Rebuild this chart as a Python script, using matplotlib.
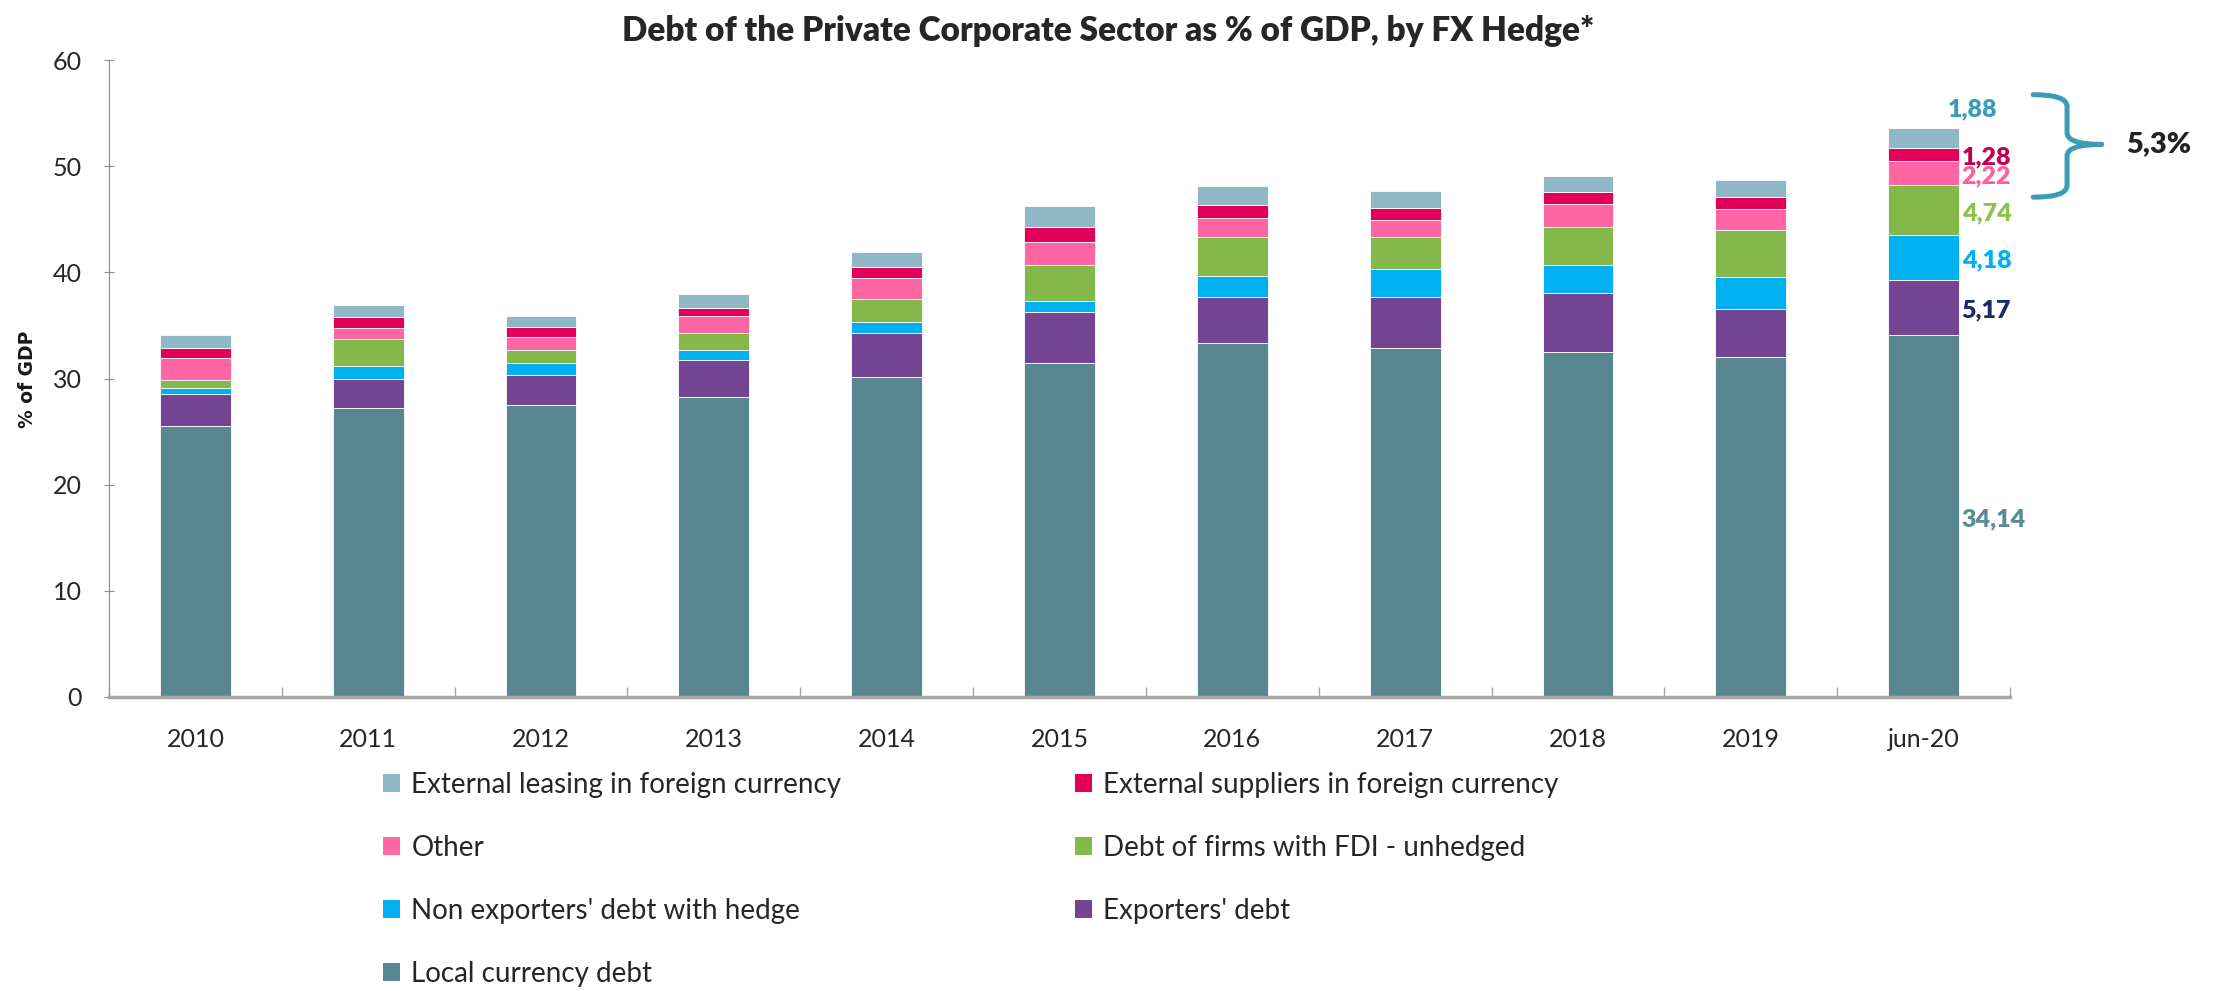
import matplotlib
matplotlib.use("Agg")
import matplotlib.pyplot as plt
import numpy as np
from matplotlib.patches import Patch, PathPatch
from matplotlib.path import Path

plt.rcParams["font.family"] = ["Lato", "DejaVu Sans"]

# data (% of GDP)
periods = ["2010", "2011", "2012", "2013", "2014", "2015",
           "2016", "2017", "2018", "2019", "jun-20"]
local_currency = [25.5, 27.2, 27.5, 28.3, 30.1, 31.5, 33.3, 32.9, 32.5, 32.0, 34.14]
exporters = [3.0, 2.75, 2.8, 3.4, 4.2, 4.8, 4.4, 4.8, 5.6, 4.55, 5.17]
non_exporters_hedge = [0.6, 1.2, 1.2, 0.97, 1.0, 1.0, 2.0, 2.6, 2.6, 3.0, 4.18]
fdi_unhedged = [0.8, 2.6, 1.15, 1.6, 2.2, 3.4, 3.65, 3.0, 3.55, 4.45, 4.74]
other = [2.0, 1.0, 1.25, 1.6, 2.0, 2.2, 1.8, 1.6, 2.2, 2.0, 2.22]
ext_suppliers = [1.0, 1.0, 0.95, 0.8, 1.0, 1.35, 1.2, 1.15, 1.15, 1.1, 1.28]
ext_leasing = [1.2, 1.2, 1.0, 1.25, 1.4, 2.0, 1.8, 1.6, 1.45, 1.6, 1.88]
fx_exposure_label = "5,3%"

series = [
    ("Local currency debt", local_currency, "#588792", "#5b8b98"),
    ("Exporters' debt", exporters, "#744593", "#1a2a6c"),
    ("Non exporters' debt with hedge", non_exporters_hedge, "#00b0f0", "#00b0f0"),
    ("Debt of firms with FDI - unhedged", fdi_unhedged, "#84b84a", "#92c050"),
    ("Other", other, "#ff66a3", "#ff5f9e"),
    ("External suppliers in foreign currency", ext_suppliers, "#e3005a", "#c00050"),
    ("External leasing in foreign currency", ext_leasing, "#8fb8c6", "#3d9cb5"),
]

W, H = 2216, 991
fig = plt.figure(figsize=(W / 100, H / 100), dpi=100)
ax = fig.add_axes([109 / W, 1 - 697 / H, (2010 - 109) / W, (697 - 60) / H])

x = np.arange(len(periods))
bottom = np.zeros(len(periods))
handles = {}
for name, vals, color, _ in series:
    vals = np.array(vals)
    ax.bar(x, vals, 0.41, bottom=bottom, color=color, edgecolor="white", linewidth=0.6)
    handles[name] = Patch(facecolor=color, edgecolor="none")
    bottom += vals

# value labels for the last bar
last = len(periods) - 1
base = 0.0
for name, vals, _, lcolor in series:
    v = vals[last]
    txt = f"{v:.2f}".replace(".", ",")
    if name.startswith("External leasing"):
        ax.text(last + 0.14, base + v + 1.7, txt, color=lcolor, fontsize=18,
                fontweight="heavy", ha="left", va="center")
    else:
        ax.text(last + 0.22, base + v / 2 - 0.3, txt, color=lcolor, fontsize=18,
                fontweight="heavy", ha="left", va="center")
    base += v

# curly brace around the top three segments
x0, xs, xt = 10.634, 10.83, 11.03
ytop, ymid, ybot, r = 56.73, 52.05, 47.08, 1.1
verts = [(x0, ytop), (xs, ytop), (xs, ytop - r), (xs, ymid + r), (xs, ymid), (xt, ymid),
         (xt, ymid), (xs, ymid), (xs, ymid - r), (xs, ybot + r), (xs, ybot), (x0, ybot)]
codes = [Path.MOVETO, Path.CURVE3, Path.CURVE3, Path.LINETO, Path.CURVE3, Path.CURVE3,
         Path.MOVETO, Path.CURVE3, Path.CURVE3, Path.LINETO, Path.CURVE3, Path.CURVE3]
ax.add_patch(PathPatch(Path(verts, codes), fill=False, edgecolor="#3d9cb5",
                       linewidth=3.6, clip_on=False, capstyle="round"))
ax.text(11.17, ymid, fx_exposure_label, fontsize=21, fontweight="heavy",
        color="#222222", ha="left", va="center")

ax.set_xlim(-0.5, len(periods) - 0.5)
ax.set_ylim(0, 60)
ax.set_yticks(range(0, 61, 10))
ax.set_xticks(x)
ax.set_xticklabels(periods)
ax.set_xticks(np.arange(-0.5, len(periods), 1.0), minor=True)
ax.tick_params(axis="x", which="major", length=0, pad=22, labelsize=18, labelcolor="#262626")
ax.tick_params(axis="x", which="minor", direction="in", length=7, color="#a6a6a6", width=1)
ax.tick_params(axis="y", direction="inout", length=7, color="#8c8c8c", pad=16,
               labelsize=18, labelcolor="#262626")

for side in ("top", "right"):
    ax.spines[side].set_visible(False)
ax.spines["left"].set_color("#8c8c8c")
ax.spines["bottom"].set_color("#a6a6a6")
ax.spines["bottom"].set_linewidth(2.5)

fig.text(28 / W, 1 - 379 / H, "% of GDP", rotation=90, fontsize=13.5,
         fontweight="bold", family="DejaVu Sans", color="#1a1a1a",
         ha="center", va="center")
fig.text(0.5, 1 - 31 / H, "Debt of the Private Corporate Sector as % of GDP, by FX Hedge*",
         fontsize=24, fontweight="heavy", color="#262626", ha="center", va="center")

legend_kw = dict(frameon=False, fontsize=20, handlelength=0.62, handleheight=0.62,
                 handletextpad=0.4, labelspacing=1.33, borderaxespad=0, borderpad=0,
                 labelcolor="#262626")
col1 = ["External leasing in foreign currency", "Other",
        "Non exporters' debt with hedge", "Local currency debt"]
col2 = ["External suppliers in foreign currency", "Debt of firms with FDI - unhedged",
        "Exporters' debt"]
fig.legend([handles[n] for n in col1], col1, loc="upper left",
           bbox_to_anchor=(383 / W, 1 - 772 / H), **legend_kw)
fig.legend([handles[n] for n in col2], col2, loc="upper left",
           bbox_to_anchor=(1075 / W, 1 - 772 / H), **legend_kw)

fig.savefig("out.png", dpi=100)
